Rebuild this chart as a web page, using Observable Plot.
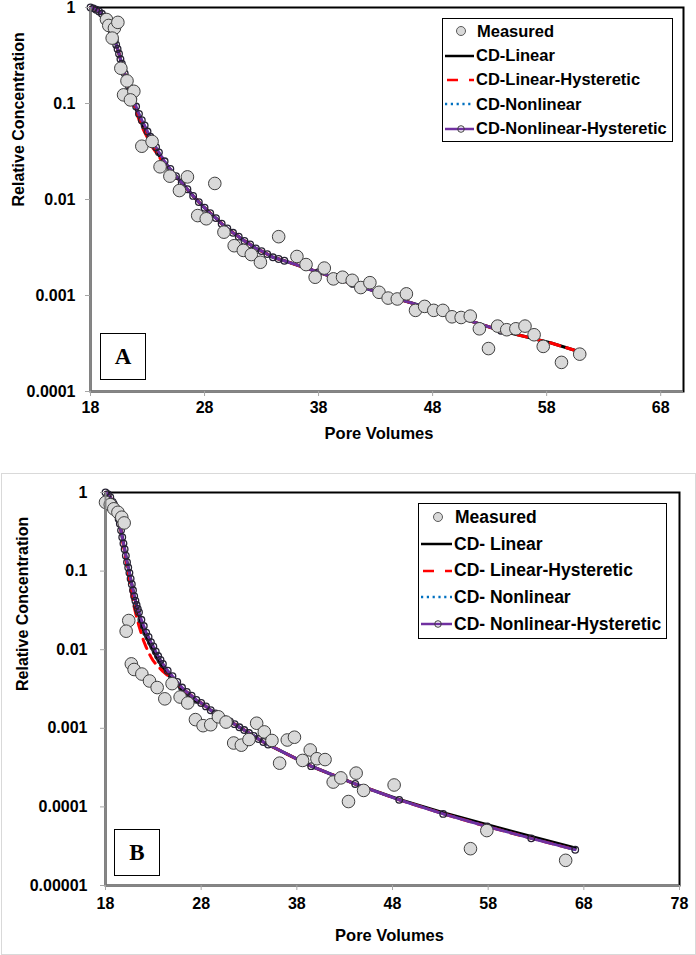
<!DOCTYPE html>
<html>
<head>
<meta charset="utf-8">
<script src="https://cdn.jsdelivr.net/npm/d3@7"></script>
<script src="https://cdn.jsdelivr.net/npm/@observablehq/plot@0.6"></script>
<style>
  body { margin: 0; background: #fff; font-family: "Liberation Sans", Arial, sans-serif; }
  #wrap { position: relative; width: 696px; height: 955px; overflow: hidden; }
  .panel { position: absolute; left: 0; }
  .border { position: absolute; left: 1px; top: 473px; width: 693px; height: 480px; border: 1px solid #d9d9d9; pointer-events: none; }
  .legend { position: absolute; box-sizing: border-box; border: 1.5px solid #000; background: #fff; font-weight: bold; color: #000; }
  .legend .row { display: flex; align-items: center; white-space: nowrap; }
  .legend svg { display: block; flex: none; }
  .tag { position: absolute; box-sizing: border-box; border: 1.5px solid #000; background: #fff;
         font-family: "Liberation Serif", "Times New Roman", serif; font-weight: bold; font-size: 23px;
         display: flex; align-items: center; justify-content: center; }
</style>
</head>
<body>
<div id="wrap">
  <div id="pa" class="panel" style="top:0px"></div>
  <div id="pb" class="panel" style="top:473px"></div>
  <div class="border"></div>
</div>
<script>
// ---------------- Panel A data ----------------
const xTicksA = [18, 28, 38, 48, 58, 68];
const xTickLabelsA = ["18", "28", "38", "48", "58", "68"];
const yTicksA = [0.0001, 0.001, 0.01, 0.1, 1];
const yTickLabelsA = ["0.0001", "0.001", "0.01", "0.1", "1"];

const measuredPvA = [19.4, 19.6, 20.1, 20.4, 19.9, 20.66, 21.2, 20.9, 21.8, 21.5, 22.5, 23.4, 24.1, 24.96, 26.5, 25.8, 28.9, 27.4, 28.15, 29.7,
  30.6, 31.4, 32.1, 32.9, 34.5, 36.1, 36.9, 37.7, 38.5, 39.3, 40.1, 40.95, 41.7, 42.5, 43.3, 44.1, 44.9, 45.7, 46.5, 47.3,
  48.1, 48.9, 49.7, 50.5, 51.3, 52.1, 52.9, 53.7, 54.5, 55.3, 56.1, 56.9, 57.7, 59.3, 60.9];
const measuredCA = [0.75, 0.65, 0.61, 0.70, 0.48, 0.233, 0.172, 0.123, 0.134, 0.109, 0.0359, 0.0402, 0.0219, 0.0175, 0.0172, 0.0124, 0.0147, 0.0068, 0.0063, 0.00457,
  0.0033, 0.00295, 0.00267, 0.00222, 0.0041, 0.00255, 0.0021, 0.00155, 0.00193, 0.00149, 0.00155, 0.00144, 0.00121, 0.00136, 0.00108, 0.00094, 0.00092, 0.00104, 0.0007, 0.00077,
  0.0007, 0.0007, 0.0006, 0.00059, 0.00061, 0.00045, 0.00028, 0.00048, 0.00044, 0.00045, 0.00048, 0.00039, 0.000295, 0.000201, 0.000245];

const modelPvA = [18, 18.25, 18.5, 18.75, 19, 19.25,
  19.375, 19.5, 19.625, 19.75, 19.875, 20, 20.125, 20.25, 20.375, 20.5, 20.625, 20.75, 20.875, 21, 21.125, 21.25, 21.375, 21.5,
  21.75, 22, 22.25, 22.5, 22.75, 23, 23.25, 23.5, 23.75, 24,
  24.5, 25, 25.5, 26, 26.5, 27, 27.5, 28, 28.5, 29, 29.5, 30, 30.5, 31, 31.5, 32, 32.5, 33, 33.5, 34, 34.5, 35,
  38, 41, 45, 49.6, 54, 58.4, 61.3];
const linearA = [1.0, 0.98, 0.95, 0.91, 0.86, 0.80,
  0.76, 0.72, 0.67, 0.62, 0.56, 0.50, 0.455, 0.41, 0.37, 0.33, 0.29, 0.26, 0.23, 0.205, 0.184, 0.165, 0.150, 0.137,
  0.112, 0.088, 0.073, 0.062, 0.054, 0.047, 0.041, 0.036, 0.032, 0.029,
  0.024, 0.0205, 0.0175, 0.015, 0.0128, 0.0109, 0.0094, 0.0082, 0.0072, 0.0064, 0.0056, 0.005, 0.0045, 0.0041, 0.0037, 0.0034, 0.0031, 0.0029, 0.0027, 0.0025, 0.0024, 0.0023,
  0.00175, 0.00132, 0.00092, 0.00063, 0.00043, 0.00032, 0.00025];
const linearHystA = [1.0, 0.98, 0.95, 0.91, 0.86, 0.80,
  0.76, 0.72, 0.67, 0.62, 0.56, 0.50, 0.455, 0.41, 0.37, 0.33, 0.29, 0.26, 0.23, 0.205, 0.184, 0.165, 0.145, 0.128,
  0.101, 0.082, 0.068, 0.058, 0.050, 0.044, 0.039, 0.034, 0.031, 0.028,
  0.023, 0.0195, 0.0172, 0.0148, 0.0127, 0.0109, 0.0094, 0.0082, 0.0072, 0.0064, 0.0056, 0.005, 0.0045, 0.0041, 0.0037, 0.0034, 0.0031, 0.0029, 0.0027, 0.0025, 0.0024, 0.0023,
  0.00175, 0.00132, 0.00092, 0.00063, 0.00043, 0.00032, 0.00025];
const nonlinearA = [1.0, 0.98, 0.95, 0.91, 0.86, 0.80,
  0.76, 0.72, 0.67, 0.62, 0.56, 0.50, 0.455, 0.41, 0.37, 0.33, 0.29, 0.26, 0.23, 0.205, 0.184, 0.165, 0.150, 0.137,
  0.112, 0.093, 0.078, 0.067, 0.059, 0.051, 0.045, 0.039, 0.035, 0.031,
  0.025, 0.0208, 0.0175, 0.015, 0.0128, 0.0109, 0.0094, 0.0082, 0.0072, 0.0064, 0.0056, 0.005, 0.0045, 0.0041, 0.0037, 0.0034, 0.0031, 0.0029, 0.0027, 0.0025, 0.0024, 0.0023,
  0.00175, 0.00132, 0.00092, 0.00063, 0.00043, null, null];
const nonlinearHystA = [1.0, 0.98, 0.95, 0.91, 0.86, 0.80,
  0.76, 0.72, 0.67, 0.62, 0.56, 0.50, 0.455, 0.41, 0.37, 0.33, 0.29, 0.26, 0.23, 0.205, 0.184, 0.165, 0.150, 0.137,
  0.112, 0.093, 0.078, 0.067, 0.059, 0.051, 0.045, 0.039, 0.035, 0.031,
  0.025, 0.0208, 0.0175, 0.015, 0.0128, 0.0109, 0.0094, 0.0082, 0.0072, 0.0064, 0.0056, 0.005, 0.0045, 0.0041, 0.0037, 0.0034, 0.0031, 0.0029, 0.0027, 0.0025, 0.0024, 0.0023,
  0.00175, 0.00132, 0.00092, 0.00063, 0.00043, null, null];

// ---------------- Panel B data ----------------
const xTicksB = [18, 28, 38, 48, 58, 68, 78];
const xTickLabelsB = ["18", "28", "38", "48", "58", "68", "78"];
const yTicksB = [0.00001, 0.0001, 0.001, 0.01, 0.1, 1];
const yTickLabelsB = ["0.00001", "0.0001", "0.001", "0.01", "0.1", "1"];

const measuredPvB = [18.0, 18.5, 18.87, 19.3, 19.7, 19.95, 20.43, 20.16, 20.7, 20.99, 21.8, 22.6, 23.4, 24.2, 24.96, 25.8, 26.6, 27.4, 28.2, 29.0,
  29.8, 30.6, 31.4, 32.2, 33.0, 33.8, 34.6, 35.4, 36.2, 37.0, 37.75, 38.6, 39.4, 40.1, 40.95, 41.8, 42.6, 43.4, 44.2, 44.98,
  48.17, 56.15, 57.86, 66.1];
const measuredCB = [0.75, 0.70, 0.62, 0.56, 0.485, 0.41, 0.0235, 0.0172, 0.0066, 0.0056, 0.0049, 0.0040, 0.0033, 0.00237, 0.0037, 0.0025, 0.0021, 0.00129, 0.00108, 0.00111,
  0.0014, 0.0012, 0.00065, 0.00061, 0.00072, 0.00116, 0.0009, 0.0007, 0.00036, 0.00071, 0.00077, 0.00039, 0.00053, 0.00041, 0.0004, 0.000207, 0.000234, 0.000117, 0.000269, 0.000162,
  0.00019, 0.0000294, 0.00005, 0.0000209];

const modelPvB = [18, 18.25, 18.5, 18.75,
  18.875, 19, 19.125, 19.25, 19.375, 19.5, 19.625, 19.75, 19.875, 20, 20.125, 20.25, 20.375, 20.5, 20.625, 20.75, 20.875, 21, 21.125, 21.25, 21.375, 21.5,
  21.75, 22, 22.25, 22.5, 22.75, 23, 23.25, 23.5, 23.75, 24,
  24.5, 25, 25.5, 26, 26.5, 27, 27.5, 28, 28.5, 29, 29.5, 30, 30.5, 31, 31.5, 32, 32.5, 33, 33.5, 34, 34.5, 35,
  39.5, 44.1, 48.7, 53.3, 57.9, 62.5, 67.1];
const linearB = [1.0, 0.95, 0.87, 0.76,
  0.71, 0.66, 0.59, 0.52, 0.46, 0.40, 0.33, 0.27, 0.225, 0.19, 0.157, 0.13, 0.111, 0.095, 0.08, 0.068, 0.057, 0.048, 0.042, 0.037, 0.031, 0.027,
  0.021, 0.0175, 0.0145, 0.0127, 0.011, 0.0097, 0.0084, 0.0074, 0.0066, 0.0059,
  0.0049, 0.0042, 0.0036, 0.0031, 0.0027, 0.0024, 0.0022, 0.0021, 0.0019, 0.0017, 0.00155, 0.00142, 0.0013, 0.00122, 0.00113, 0.00103, 0.00095, 0.00087, 0.0008, 0.00073, 0.00067, 0.00062,
  0.00033, 0.000196, 0.000124, 0.000084, 0.000059, 0.000042, 0.00003];
const linearHystB = [1.0, 0.95, 0.87, 0.76,
  0.71, 0.66, 0.59, 0.52, 0.46, 0.40, 0.33, 0.26, 0.21, 0.17, 0.14, 0.115, 0.093, 0.075, 0.061, 0.05, 0.042, 0.035, 0.030, 0.026, 0.023, 0.02,
  0.016, 0.0128, 0.0108, 0.0092, 0.0081, 0.0072, 0.0066, 0.0061, 0.0057, 0.0053,
  0.0047, 0.0042, 0.0037, 0.0032, 0.0029, 0.0026, 0.0023, 0.0021, 0.0019, 0.0017, 0.00155, 0.00142, 0.0013, 0.00122, 0.00113, 0.00103, 0.00095, 0.00087, 0.0008, 0.00073, 0.00067, 0.00062,
  0.00033, 0.000196, 0.000123, 0.0000815, 0.0000562, 0.0000398, 0.0000285];
const nonlinearB = [1.0, 0.95, 0.87, 0.76,
  0.71, 0.66, 0.59, 0.52, 0.46, 0.40, 0.33, 0.27, 0.225, 0.19, 0.157, 0.13, 0.111, 0.095, 0.08, 0.068, 0.057, 0.048, 0.042, 0.037, 0.033, 0.030,
  0.024, 0.020, 0.0165, 0.0145, 0.0125, 0.011, 0.0095, 0.0083, 0.0074, 0.0066,
  0.0054, 0.0046, 0.0039, 0.0033, 0.0029, 0.0026, 0.0023, 0.0021, 0.0019, 0.0017, 0.00155, 0.00142, 0.0013, 0.00122, 0.00113, 0.00103, 0.00095, 0.00087, 0.0008, 0.00073, 0.00067, 0.00062,
  0.00033, 0.000196, 0.000123, 0.0000815, 0.0000562, 0.0000398, 0.0000285];
const nonlinearHystB = [1.0, 0.95, 0.87, 0.76,
  0.71, 0.66, 0.59, 0.52, 0.46, 0.40, 0.33, 0.27, 0.225, 0.19, 0.157, 0.13, 0.111, 0.095, 0.08, 0.068, 0.057, 0.048, 0.042, 0.037, 0.033, 0.030,
  0.024, 0.020, 0.0165, 0.0145, 0.0125, 0.011, 0.0095, 0.0083, 0.0074, 0.0066,
  0.0054, 0.0046, 0.0039, 0.0033, 0.0029, 0.0026, 0.0023, 0.0021, 0.0019, 0.0017, 0.00155, 0.00142, 0.0013, 0.00122, 0.00113, 0.00103, 0.00095, 0.00087, 0.0008, 0.00073, 0.00067, 0.00062,
  0.00033, 0.000196, 0.000123, 0.0000815, 0.0000562, 0.0000398, 0.0000285];

const seriesNamesA = ["Measured", "CD-Linear", "CD-Linear-Hysteretic", "CD-Nonlinear", "CD-Nonlinear-Hysteretic"];
const seriesNamesB = ["Measured", "CD- Linear", "CD- Linear-Hysteretic", "CD- Nonlinear", "CD- Nonlinear-Hysteretic"];
const xTitle = "Pore Volumes";
const yTitle = "Relative Concentration";

// ---------------- drawing ----------------
const FONT = "'Liberation Sans', Arial, Helvetica, sans-serif";
const COL = { linear: "#000000", linHyst: "#ff0000", nonlin: "#0070c0", nonlinHyst: "#7030a0",
              mFill: "#d9d9d9", mStroke: "#404040", axis: "#868686", tick: "#a6a6a6" };

function idx(pv, c) { return d3.range(pv.length).filter(i => c[i] != null); }

function panel(o) {
  const lineMark = (c, opts) => Plot.line(idx(o.modelPv, c), Object.assign({ x: i => o.modelPv[i], y: i => c[i], curve: "linear" }, opts));
  return Plot.plot({
    width: 696, height: o.height,
    marginLeft: o.marginLeft, marginRight: o.marginRight, marginTop: o.marginTop, marginBottom: o.marginBottom,
    x: { domain: o.xDomain },
    y: { type: "log", domain: o.yDomain },
    style: { fontFamily: FONT, fontSize: "16px", fontWeight: "bold", color: "#000", background: "transparent", overflow: "visible" },
    marks: [
      Plot.frame({ stroke: "#000", strokeWidth: 2 }),
      lineMark(o.linear, { stroke: COL.linear, strokeWidth: 3.2 }),
      lineMark(o.linHyst, { stroke: COL.linHyst, strokeWidth: 3, strokeDasharray: "10,7" }),
      lineMark(o.nonlin, { stroke: COL.nonlin, strokeWidth: 2.5, strokeDasharray: "2,3" }),
      lineMark(o.nonlinHyst, { stroke: COL.nonlinHyst, strokeWidth: 2.8 }),
      Plot.dot(idx(o.modelPv, o.nonlinHyst), { x: i => o.modelPv[i], y: i => o.nonlinHyst[i], r: 3.3, stroke: "#262233", strokeWidth: 1.3, fill: "none" }),
      Plot.dot(d3.range(o.mPv.length), { x: i => o.mPv[i], y: i => o.mC[i], r: 6.3, fill: COL.mFill, stroke: COL.mStroke, strokeWidth: 1 }),
      Plot.ruleX([o.xDomain[0]], { stroke: COL.axis, strokeWidth: 2 }),
      Plot.ruleY([o.yDomain[0]], { stroke: COL.axis, strokeWidth: 2 }),
      // tick marks only
      Plot.axisX({ ticks: o.xTicks, tickFormat: () => "", tickSize: 5, stroke: COL.tick, label: null }),
      Plot.axisY({ ticks: o.yTicks, tickFormat: () => "", tickSize: 5, stroke: COL.tick, label: null }),
      // tick labels
      Plot.text(o.xTicks, { x: d => d, text: (d, i) => o.xLabels[i], frameAnchor: "bottom", dy: o.xLabDy,
                            fontSize: 16, fontWeight: "bold", fill: "#000" }),
      Plot.text(o.yTicks, { y: d => d, text: (d, i) => o.yLabels[i], frameAnchor: "left", dx: o.yLabDx, textAnchor: "end",
                            fontSize: 16, fontWeight: "bold", fill: "#000" }),
      Plot.text([xTitle], { text: d => d, frameAnchor: "bottom", dy: o.xTitleDy, dx: o.xTitleDx, fontSize: 16.5, fontWeight: "bold", fill: "#000" }),
      Plot.text([yTitle], { text: d => d, frameAnchor: "left", rotate: -90, dx: o.yTitleDx, dy: o.yTitleDy, fontSize: 16, fontWeight: "bold", fill: "#000" })
    ]
  });
}

const A = panel({
  height: 460, marginLeft: 90, marginRight: 13, marginTop: 7, marginBottom: 69,
  xDomain: [18, 70], yDomain: [0.0001, 1], xTicks: xTicksA, xLabels: xTickLabelsA, yTicks: yTicksA, yLabels: yTickLabelsA,
  xLabDy: 21, yLabDx: -15, xTitleDy: 47, xTitleDx: -8, yTitleDx: -72, yTitleDy: 7,
  modelPv: modelPvA, linear: linearA, linHyst: linearHystA, nonlin: nonlinearA, nonlinHyst: nonlinearHystA,
  mPv: measuredPvA, mC: measuredCA
});
document.getElementById("pa").appendChild(A);

const B = panel({
  height: 482, marginLeft: 105, marginRight: 17, marginTop: 19, marginBottom: 70,
  xDomain: [18, 78], yDomain: [0.00001, 1], xTicks: xTicksB, xLabels: xTickLabelsB, yTicks: yTicksB, yLabels: yTickLabelsB,
  xLabDy: 23, yLabDx: -18, xTitleDy: 55, xTitleDx: -3, yTitleDx: -83, yTitleDy: 2,
  modelPv: modelPvB, linear: linearB, linHyst: linearHystB, nonlin: nonlinearB, nonlinHyst: nonlinearHystB,
  mPv: measuredPvB, mC: measuredCB
});
document.getElementById("pb").appendChild(B);

// ---------------- legends & panel tags ----------------
function symbol(k, w, cx) {
  const ns = "http://www.w3.org/2000/svg";
  const s = document.createElementNS(ns, "svg");
  s.setAttribute("width", w); s.setAttribute("height", 14);
  const add = (tag, attrs) => { const e = document.createElementNS(ns, tag); for (const a in attrs) e.setAttribute(a, attrs[a]); s.appendChild(e); };
  if (k === 0) add("circle", { cx, cy: 7, r: 4.5, fill: COL.mFill, stroke: "#595959", "stroke-width": 1 });
  if (k === 1) add("line", { x1: 1, x2: w - 1, y1: 7, y2: 7, stroke: COL.linear, "stroke-width": 2.5 });
  if (k === 2) add("line", { x1: 3, x2: w - 1, y1: 7, y2: 7, stroke: COL.linHyst, "stroke-width": 2.5, "stroke-dasharray": "11,11" });
  if (k === 3) add("line", { x1: 1, x2: w - 1, y1: 7, y2: 7, stroke: COL.nonlin, "stroke-width": 2.5, "stroke-dasharray": "2.2,3.6" });
  if (k === 4) {
    add("line", { x1: 1, x2: w - 1, y1: 7, y2: 7, stroke: COL.nonlinHyst, "stroke-width": 2.5 });
    add("circle", { cx, cy: 7, r: 3.3, fill: "none", stroke: "#404040", "stroke-width": 1 });
  }
  return s;
}
function legend(names, box) {
  const d = document.createElement("div");
  d.className = "legend";
  Object.assign(d.style, { left: box.left + "px", top: box.top + "px", width: box.w + "px", height: box.h + "px", fontSize: box.fs + "px" });
  names.forEach((n, k) => {
    const r = document.createElement("div");
    r.className = "row"; r.style.height = box.rh + "px";
    const s = symbol(k, box.sw, box.cx); s.style.marginLeft = "0.5px"; s.style.marginRight = box.gap + "px";
    r.appendChild(s);
    const t = document.createElement("span"); t.textContent = n;
    if (k === 0) t.style.marginLeft = "1px";
    r.appendChild(t);
    d.appendChild(r);
  });
  document.getElementById("wrap").appendChild(d);
}
legend(seriesNamesA, { left: 442, top: 18, w: 231, h: 124, fs: 16.5, rh: 24.4, sw: 31, cx: 17, gap: 1.5 });
legend(seriesNamesB, { left: 418, top: 503, w: 249, h: 136, fs: 17.5, rh: 26.7, sw: 33, cx: 18, gap: 1.5 });

function tag(letter, left, top) {
  const d = document.createElement("div");
  d.className = "tag"; d.textContent = letter;
  Object.assign(d.style, { left: left + "px", top: top + "px", width: "46px", height: "47px" });
  document.getElementById("wrap").appendChild(d);
}
tag("A", 100, 333);
tag("B", 114, 829);
</script>
</body>
</html>
